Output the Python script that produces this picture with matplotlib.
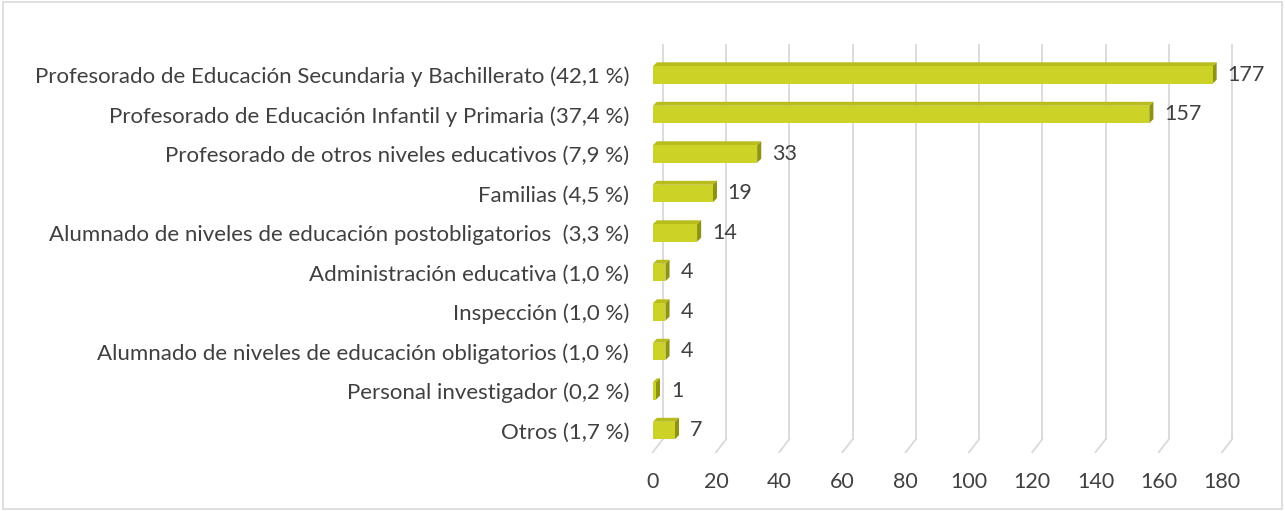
import matplotlib.pyplot as plt
from matplotlib.patches import Polygon, Rectangle

categories = [
    "Profesorado de Educación Secundaria y Bachillerato (42,1 %)",
    "Profesorado de Educación Infantil y Primaria (37,4 %)",
    "Profesorado de otros niveles educativos (7,9 %)",
    "Familias (4,5 %)",
    "Alumnado de niveles de educación postobligatorios  (3,3 %)",
    "Administración educativa (1,0 %)",
    "Inspección (1,0 %)",
    "Alumnado de niveles de educación obligatorios (1,0 %)",
    "Personal investigador (0,2 %)",
    "Otros (1,7 %)",
]
values = [177, 157, 33, 19, 14, 4, 4, 4, 1, 7]
xticks = [0, 20, 40, 60, 80, 100, 120, 140, 160, 180]

FRONT = "#cdd227"
TOP = "#b8bd1c"
SIDE = "#8f9312"
GRID = "#d9d9d9"
TXT = "#404040"

plt.rcParams['font.family'] = ['Lato', 'DejaVu Sans']

fig = plt.figure(figsize=(12.85, 5.11), dpi=100)
ax = fig.add_axes([0.508, 0.119, 0.443, 0.773])
ax.set_xlim(0, 180)
ax.set_ylim(len(values) - 0.5, -0.5)

# back-wall gridlines with a floor diagonal (fake 3D depth)
gdx, gdy = 3.2, 0.28
for t in xticks:
    ax.plot([t + gdx, t + gdx], [-0.75, len(values) - 0.5 - gdy], color=GRID,
            lw=1.3, clip_on=False, zorder=1)
    ax.plot([t + gdx, t], [len(values) - 0.5 - gdy, len(values) - 0.5 + 0.05],
            color=GRID, lw=1.3, clip_on=False, zorder=1)

# 3D-ish bars
h = 0.44
bdx, bdy = 1.3, 0.1
for i, v in enumerate(values):
    top = i - h / 2
    bot = i + h / 2
    ax.add_patch(Polygon([(0, top), (v, top), (v + bdx, top - bdy), (bdx, top - bdy)],
                         closed=True, facecolor=TOP, edgecolor="none", zorder=3))
    ax.add_patch(Polygon([(v, top), (v, bot), (v + bdx, bot - bdy), (v + bdx, top - bdy)],
                         closed=True, facecolor=SIDE, edgecolor="none", zorder=3))
    ax.add_patch(Rectangle((0, top), v, h, facecolor=FRONT, edgecolor="none", zorder=4))
    ax.text(v + bdx + 3.4, i, str(v), va="center", ha="left", fontsize=15.5,
            color=TXT, zorder=5)

ax.set_yticks(range(len(categories)))
ax.set_yticklabels(categories, fontsize=16, color=TXT)
ax.set_xticks(xticks)
ax.set_xticklabels([str(t) for t in xticks], fontsize=15.5, color=TXT)
ax.tick_params(axis="y", length=0, pad=17)
ax.tick_params(axis="x", length=0, pad=16)
for s in ax.spines.values():
    s.set_visible(False)
ax.patch.set_alpha(0)

fig.patches.append(Rectangle((0.002, 0.003), 0.996, 0.994, transform=fig.transFigure,
                             fill=False, edgecolor=GRID, lw=1.2))

fig.savefig("out.png", dpi=100)
